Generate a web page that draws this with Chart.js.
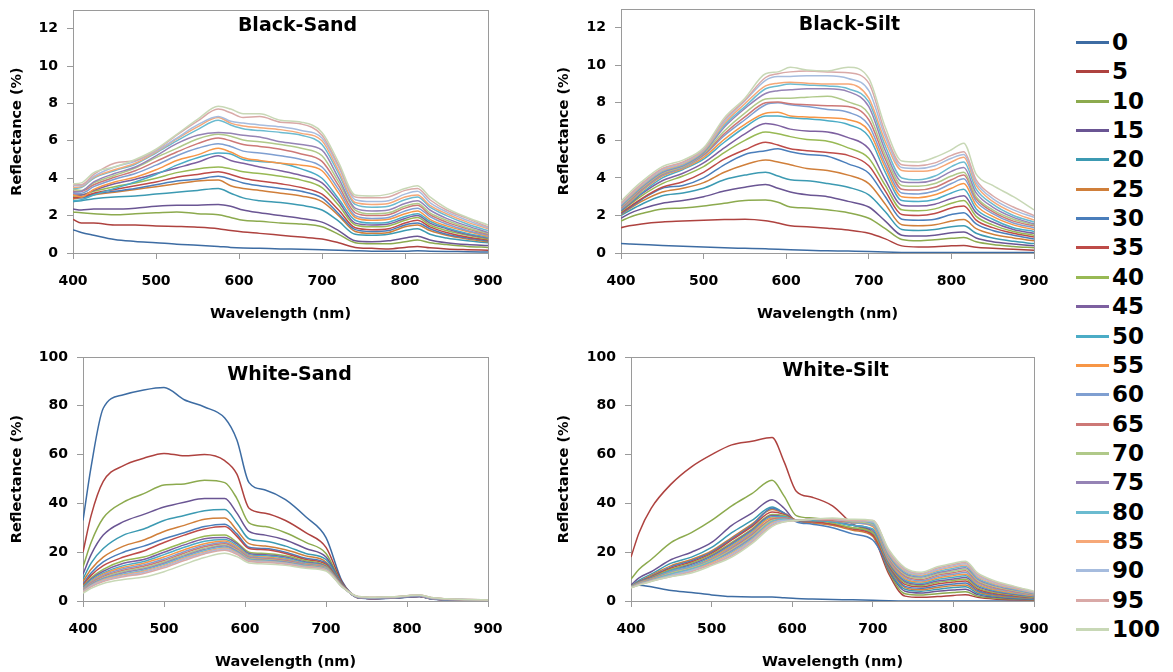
<!DOCTYPE html>
<html>
<head>
<meta charset="utf-8">
<script src="https://cdn.jsdelivr.net/npm/chart.js@4/dist/chart.umd.min.js"></script>
<style>
  body { margin: 0; background: #fff; width: 1173px; height: 672px; overflow: hidden; position: relative; }
  canvas { position: absolute; }
  #legend { position: absolute; left: 1076px; top: 0; }
  .item { position: absolute; left: 0; width: 100px; height: 3px; }
  .item i { position: absolute; left: 0; top: 0; width: 33px; height: 3px; }
  .item span { position: absolute; left: 36px; top: -12px; line-height: 26px; font: bold 23px "DejaVu Sans", sans-serif; color: #000; }
</style>
</head>
<body>
<canvas id="bsand" width="520" height="330" style="left:0;top:0"></canvas>
<canvas id="bsilt" width="520" height="330" style="left:550px;top:0"></canvas>
<canvas id="wsand" width="520" height="332" style="left:0;top:340px"></canvas>
<canvas id="wsilt" width="520" height="332" style="left:550px;top:340px"></canvas>
<div id="legend"></div>
<script>
// wavelength grid (nm) shared by every panel
const wavelengths = [400, 410, 425, 450, 475, 500, 525, 550, 575, 590, 605, 625, 650, 675, 700, 720, 740, 760, 780, 800, 815, 830, 850, 875, 900];
const fractions = ["0", "5", "10", "15", "20", "25", "30", "35", "40", "45", "50", "55", "60", "65", "70", "75", "80", "85", "90", "95", "100"];
const lineColors = ["#3D6CA3", "#AE423F", "#8CAA4E", "#6A5593", "#3C9AB2", "#D07F3A", "#4A7EBB", "#BE4B48", "#98B954", "#7D60A0", "#4BACC6", "#F79646",
  "#7F9FD1", "#CD7876", "#B0C989", "#9583B5", "#6BBBD0", "#F6A878", "#A6BCDE", "#D9A9A7", "#C8D8B6"];
const blackTicks = [0, 2, 4, 6, 8, 10, 12];
const whiteTicks = [0, 20, 40, 60, 80, 100];

// Black-Sand reflectance (%), one row per fraction
const blackSand = [
  [1.25,1.1,0.95,0.72,0.62,0.55,0.47,0.42,0.35,0.3,0.27,0.25,0.22,0.2,0.17,0.15,0.12,0.1,0.1,0.1,0.12,0.1,0.08,0.07,0.05],
  [1.8,1.6,1.6,1.5,1.5,1.45,1.42,1.38,1.3,1.2,1.12,1.05,0.95,0.85,0.75,0.55,0.3,0.25,0.22,0.3,0.35,0.28,0.22,0.18,0.15],
  [2.2,2.15,2.1,2.05,2.1,2.15,2.2,2.1,2.05,1.9,1.75,1.7,1.6,1.55,1.4,1.0,0.55,0.5,0.5,0.6,0.7,0.55,0.45,0.35,0.3],
  [2.35,2.3,2.35,2.35,2.4,2.5,2.55,2.55,2.6,2.5,2.3,2.15,2.0,1.85,1.65,1.2,0.65,0.6,0.65,0.8,0.9,0.7,0.55,0.45,0.4],
  [2.75,2.8,2.9,3.0,3.05,3.15,3.25,3.35,3.45,3.2,2.95,2.8,2.7,2.55,2.3,1.7,1.0,0.95,1.0,1.2,1.3,1.0,0.8,0.65,0.55],
  [2.9,2.95,3.1,3.25,3.4,3.55,3.7,3.85,3.9,3.6,3.45,3.35,3.2,3.05,2.75,2.0,1.15,1.05,1.1,1.4,1.5,1.2,0.95,0.75,0.6],
  [3.0,2.95,3.15,3.3,3.45,3.65,3.85,3.95,4.1,3.95,3.75,3.6,3.45,3.3,2.95,2.1,1.25,1.15,1.2,1.5,1.6,1.3,1.0,0.8,0.65],
  [2.95,3.0,3.2,3.4,3.6,3.8,4.05,4.2,4.35,4.2,4.0,3.85,3.7,3.5,3.15,2.3,1.35,1.25,1.3,1.6,1.75,1.4,1.1,0.85,0.7],
  [3.05,3.1,3.3,3.55,3.75,4.0,4.3,4.5,4.6,4.5,4.35,4.25,4.1,3.9,3.5,2.55,1.5,1.4,1.45,1.75,1.9,1.5,1.2,0.95,0.75],
  [3.1,3.1,3.35,3.7,3.95,4.25,4.55,4.85,5.2,4.95,4.8,4.6,4.4,4.15,3.75,2.75,1.6,1.5,1.55,1.85,2.0,1.6,1.3,1.0,0.8],
  [2.8,2.85,3.1,3.45,3.8,4.2,4.7,5.1,5.35,5.3,5.0,4.9,4.8,4.5,4.0,2.9,1.75,1.6,1.65,1.95,2.1,1.7,1.35,1.05,0.85],
  [3.1,3.0,3.4,3.8,4.05,4.45,4.95,5.25,5.6,5.4,5.1,4.95,4.8,4.7,4.4,3.2,1.9,1.75,1.8,2.1,2.25,1.8,1.45,1.15,0.9],
  [3.2,3.2,3.55,3.95,4.25,4.7,5.2,5.6,5.85,5.7,5.45,5.35,5.2,5.0,4.6,3.4,2.0,1.85,1.9,2.25,2.4,1.95,1.55,1.2,0.95],
  [3.3,3.3,3.65,4.05,4.4,4.9,5.4,5.85,6.15,6.0,5.8,5.7,5.55,5.3,4.9,3.6,2.15,2.0,2.05,2.4,2.55,2.05,1.65,1.3,1.0],
  [3.4,3.35,3.75,4.15,4.55,5.1,5.6,6.1,6.35,6.25,6.05,5.95,5.8,5.6,5.2,3.8,2.3,2.1,2.15,2.5,2.65,2.15,1.75,1.35,1.05],
  [3.25,3.3,3.8,4.25,4.6,5.2,5.85,6.3,6.45,6.4,6.3,6.2,5.95,5.8,5.5,4.0,2.4,2.25,2.3,2.65,2.8,2.3,1.85,1.45,1.1],
  [3.45,3.5,4.0,4.4,4.75,5.35,6.0,6.6,7.1,6.85,6.65,6.55,6.45,6.3,5.8,4.25,2.6,2.45,2.5,2.85,3.0,2.45,2.0,1.55,1.2],
  [3.5,3.55,4.05,4.45,4.8,5.4,6.1,6.75,7.25,6.95,6.8,6.7,6.6,6.4,6.0,4.4,2.7,2.6,2.65,3.0,3.1,2.55,2.1,1.65,1.3],
  [3.6,3.6,4.1,4.6,4.9,5.45,6.15,6.85,7.3,7.05,6.95,6.85,6.75,6.55,6.15,4.6,2.85,2.75,2.8,3.15,3.3,2.7,2.2,1.75,1.35],
  [3.65,3.65,4.2,4.8,4.95,5.5,6.3,7.05,7.7,7.5,7.25,7.3,7.0,6.9,6.3,4.7,3.0,2.95,3.0,3.35,3.45,2.85,2.3,1.85,1.4],
  [3.7,3.75,4.3,4.6,5.0,5.55,6.35,7.15,7.85,7.7,7.45,7.45,7.1,7.0,6.45,4.85,3.1,3.05,3.15,3.45,3.6,3.0,2.4,1.9,1.5]
];

// Black-Silt reflectance (%)
const blackSilt = [
  [0.5,0.48,0.45,0.4,0.36,0.32,0.28,0.25,0.22,0.2,0.17,0.14,0.12,0.1,0.08,0.05,0.03,0.02,0.02,0.02,0.02,0.02,0.02,0.02,0.02],
  [1.35,1.45,1.55,1.65,1.7,1.75,1.78,1.8,1.72,1.6,1.45,1.4,1.32,1.22,1.05,0.75,0.38,0.32,0.33,0.38,0.4,0.3,0.25,0.2,0.15],
  [1.7,1.9,2.1,2.35,2.4,2.5,2.65,2.8,2.82,2.7,2.45,2.4,2.3,2.15,1.85,1.3,0.72,0.65,0.7,0.78,0.82,0.6,0.45,0.35,0.28],
  [1.85,2.1,2.35,2.65,2.8,3.0,3.3,3.5,3.65,3.45,3.25,3.1,3.0,2.75,2.45,1.7,0.95,0.9,0.95,1.08,1.12,0.8,0.6,0.48,0.38],
  [2.0,2.25,2.6,3.05,3.2,3.45,3.9,4.15,4.3,4.1,3.9,3.85,3.7,3.5,3.1,2.2,1.25,1.2,1.25,1.4,1.45,1.05,0.8,0.62,0.5],
  [2.05,2.35,2.75,3.25,3.45,3.75,4.3,4.7,4.95,4.85,4.7,4.5,4.4,4.15,3.7,2.6,1.5,1.45,1.5,1.7,1.78,1.3,1.0,0.8,0.65],
  [2.1,2.4,2.85,3.45,3.6,4.0,4.7,5.25,5.45,5.55,5.4,5.25,5.15,4.75,4.25,3.0,1.8,1.75,1.8,2.05,2.15,1.55,1.2,0.95,0.75],
  [2.15,2.45,2.9,3.5,3.8,4.3,5.0,5.5,5.9,5.75,5.55,5.45,5.35,5.2,4.65,3.3,2.05,2.0,2.1,2.4,2.5,1.75,1.35,1.05,0.85],
  [2.2,2.55,3.05,3.7,4.1,4.6,5.35,6.0,6.45,6.35,6.2,6.05,5.95,5.6,5.05,3.6,2.3,2.25,2.35,2.65,2.8,1.95,1.5,1.15,0.95],
  [2.25,2.6,3.15,3.85,4.25,4.8,5.6,6.35,6.9,6.8,6.6,6.5,6.45,6.15,5.55,3.9,2.55,2.5,2.6,2.9,3.05,2.15,1.65,1.25,1.05],
  [2.3,2.65,3.2,4.0,4.45,5.0,5.9,6.7,7.3,7.3,7.2,7.15,7.05,6.85,6.2,4.3,2.8,2.75,2.85,3.2,3.4,2.35,1.8,1.35,1.15],
  [2.35,2.7,3.3,4.1,4.5,5.1,6.05,6.85,7.45,7.5,7.3,7.25,7.2,7.1,6.5,4.55,3.0,2.95,3.1,3.45,3.7,2.55,1.95,1.5,1.25],
  [2.35,2.75,3.35,4.15,4.55,5.2,6.25,7.1,7.9,8.0,7.9,7.8,7.65,7.5,6.8,4.75,3.2,3.15,3.3,3.7,3.95,2.75,2.1,1.6,1.35],
  [2.4,2.8,3.4,4.2,4.6,5.25,6.35,7.25,8.0,8.05,7.95,7.9,7.85,7.8,7.1,5.0,3.4,3.35,3.5,3.9,4.15,2.9,2.2,1.7,1.45],
  [2.45,2.85,3.45,4.25,4.6,5.3,6.5,7.45,8.2,8.25,8.25,8.3,8.35,8.05,7.4,5.2,3.6,3.55,3.7,4.1,4.3,3.0,2.3,1.8,1.5],
  [2.5,2.9,3.5,4.3,4.65,5.35,6.7,7.7,8.5,8.65,8.7,8.75,8.75,8.6,7.8,5.45,3.8,3.75,3.9,4.35,4.55,3.2,2.45,1.9,1.55],
  [2.55,2.95,3.55,4.35,4.7,5.4,6.8,7.8,8.75,8.9,9.0,8.95,8.9,8.75,8.05,5.7,4.0,3.9,4.1,4.6,4.85,3.4,2.6,2.0,1.65],
  [2.6,3.0,3.6,4.4,4.75,5.45,6.9,7.95,8.9,9.05,9.1,9.05,9.0,9.0,8.25,5.95,4.4,4.35,4.45,4.85,5.1,3.6,2.75,2.15,1.75],
  [2.6,3.05,3.65,4.45,4.8,5.5,7.0,8.1,9.2,9.4,9.4,9.45,9.45,9.3,8.65,6.2,4.55,4.5,4.65,5.05,5.25,3.75,2.9,2.3,1.9],
  [2.65,3.1,3.7,4.5,4.85,5.55,7.1,8.15,9.35,9.55,9.65,9.7,9.65,9.6,9.05,6.4,4.7,4.65,4.8,5.2,5.4,3.9,3.05,2.45,2.0],
  [2.75,3.2,3.8,4.6,4.95,5.6,7.2,8.25,9.55,9.65,9.9,9.75,9.7,9.9,9.3,6.7,4.9,4.85,5.1,5.5,5.85,4.2,3.6,3.0,2.3]
];

// White-Sand reflectance (%)
const whiteSand = [
  [33,55,79,84.5,86.5,87.5,82.5,79.5,75,66,48.5,45.5,41.5,34.5,26,8,1.5,1.0,1.2,1.6,1.9,0.9,0.5,0.3,0.2],
  [20,35,49,55.5,58.5,60.5,59.5,60,57.5,52,38,36,33,28,22,7.5,1.4,1.0,1.2,1.6,1.8,0.9,0.5,0.3,0.2],
  [14,24,34,40.5,44,47.5,48,49.5,48.5,42,32,30.5,28,24,19.5,7,1.3,1.1,1.3,1.7,1.9,1.0,0.6,0.4,0.2],
  [11,19,27,32.5,35.5,38.5,40.5,42,42,36,28.5,27,25,21.5,18,7,1.3,1.0,1.2,1.6,1.8,0.9,0.5,0.3,0.2],
  [9,15.5,21.5,27,29.5,33,35,37,37.5,32,25.5,24.5,22.5,19.5,17,6.8,1.4,1.1,1.3,1.7,2.0,1.0,0.6,0.4,0.3],
  [8,13,18,22.5,25,28.5,31,33.5,34,29,23.5,22.5,21,18.5,16,6.6,1.3,1.0,1.2,1.6,1.9,0.9,0.5,0.3,0.2],
  [7,11.5,16,20,22.5,25.5,28,30.5,31.5,27.5,22,21.5,20,17.5,15.5,6.5,1.2,0.9,1.1,1.5,1.8,0.8,0.5,0.3,0.2],
  [6.5,10.5,14.5,18,20.5,24,27,29.5,30.5,26.5,21.5,21,19.5,17,15,6.4,1.3,1.0,1.2,1.7,1.9,0.9,0.6,0.4,0.2],
  [6,9.5,13,16.5,18,21,24,26.5,27,24,20,19.5,18.5,16.5,14.5,6.3,1.4,1.1,1.3,1.8,2.0,1.0,0.6,0.4,0.3],
  [5.6,9,12.2,15.5,17,20,23,25.5,26,23.5,19.5,19,18,16,14.2,6.3,1.3,1.0,1.2,1.7,1.9,0.9,0.5,0.3,0.2],
  [5.3,8.5,11.5,14.5,16.2,19,22,24.5,25.2,22.8,19,18.5,17.5,15.6,14,6.2,1.4,1.1,1.3,1.8,2.0,1.0,0.6,0.4,0.3],
  [5,8,11,13.8,15.5,18,21,23.5,24.6,22.2,18.6,18,17.1,15.3,13.8,6.2,1.5,1.2,1.4,1.9,2.1,1.1,0.7,0.5,0.3],
  [4.8,7.6,10.5,13.2,14.8,17.2,20.2,22.8,24,21.6,18.2,17.6,16.8,15.1,13.6,6.1,1.4,1.1,1.3,1.8,2.0,1.0,0.6,0.4,0.3],
  [4.6,7.3,10,12.6,14.2,16.6,19.6,22.2,23.5,21.2,17.8,17.3,16.5,14.9,13.4,6.1,1.5,1.2,1.4,1.9,2.1,1.1,0.7,0.5,0.3],
  [4.4,7,9.6,12.1,13.6,16,19,21.6,23,20.8,17.5,17,16.2,14.7,13.3,6.0,1.6,1.3,1.5,2.0,2.2,1.2,0.8,0.5,0.3],
  [4.2,6.8,9.2,11.6,13.1,15.5,18.5,21.1,22.5,20.4,17.2,16.7,16,14.5,13.1,6.0,1.5,1.2,1.4,1.9,2.1,1.1,0.7,0.5,0.3],
  [4,6.5,8.9,11.1,12.6,15,18,20.6,22,20,17,16.5,15.7,14.3,13,5.9,1.6,1.3,1.5,2.0,2.3,1.2,0.8,0.5,0.3],
  [3.9,6.3,8.6,10.7,12.2,14.5,17.5,20.1,21.6,19.7,16.7,16.2,15.5,14.1,12.8,5.9,1.7,1.4,1.6,2.1,2.4,1.3,0.8,0.6,0.4],
  [3.8,6.1,8.3,10.3,11.8,14.1,17.1,19.7,21.2,19.4,16.4,16,15.3,13.9,12.7,5.8,1.7,1.4,1.6,2.1,2.4,1.3,0.9,0.6,0.4],
  [3.6,5.8,8,9.9,11.3,13.6,16.6,19.3,20.8,19.1,16.2,15.8,15.1,13.8,12.6,5.8,1.8,1.5,1.7,2.2,2.5,1.4,0.9,0.6,0.4],
  [3.2,5.2,7.2,8.8,9.8,12,15,17.8,19.6,18.2,15.6,15.2,14.6,13.4,12.3,5.7,1.8,1.5,1.7,2.2,2.5,1.4,0.9,0.6,0.4]
];

// White-Silt reflectance (%)
const whiteSilt = [
  [6,6.5,5.8,4.3,3.5,2.5,1.8,1.6,1.6,1.3,1.0,0.8,0.6,0.5,0.3,0.1,0,0,0,0,0,0,0,0,0],
  [18,28,38,48,55,60,64,65.5,67,57,45,42.5,39,31.5,27,11,2,1.5,1.8,2.3,2.6,1.5,0.8,0.5,0.3],
  [9,13,17,24,28,33,39,44,49.5,43,35,34,33,31,28,12,3,2.5,3,3.5,3.8,2,1.2,0.8,0.5],
  [6.5,9.5,12,17,20,24,31,36,41.5,38,33,33,32.5,31,28,12.5,4,3.3,4,4.5,4.8,2.6,1.6,1.0,0.6],
  [6,8.5,11,15.5,18,22,28,33,38.5,36,33,32.5,31.5,30,27,13,4.8,4,4.8,5.5,5.8,3.2,2,1.3,0.8],
  [6,8,10.5,14.5,17,20.5,26,31.5,37.5,36,33,32,31,29,26.5,13.5,5.5,4.6,5.5,6.3,6.6,3.8,2.4,1.6,1.0],
  [6,8,10,14,16.5,20,25.5,31,38,36,32.5,31.5,30,27.5,25,14,6,5.2,6.2,7,7.4,4.3,2.8,1.9,1.2],
  [6,7.8,9.8,13.5,16,19.5,25,30.5,36.5,35.5,33,32.5,31.5,29.5,27,14.5,6.8,5.8,7,7.8,8.2,4.9,3.2,2.2,1.4],
  [6,7.7,9.6,13,15.5,19,24,29.5,35.5,35,33,33,32,30,28,15,7.4,6.3,7.6,8.4,8.9,5.4,3.6,2.5,1.6],
  [5.9,7.6,9.4,12.5,15,18.5,23.5,29,35,34.5,33,33,32.5,31,29,15.5,8,6.8,8.2,9,9.6,6,4,2.8,1.8],
  [5.9,7.5,9.2,12.5,14.5,18,23,28.5,34.5,34.5,33,33,32.5,31,29.5,16,8.6,7.3,8.8,9.7,10.3,6.5,4.4,3.1,2.0],
  [5.8,7.4,9,12,14,17.5,22.5,28,34,34,33,33.5,33,32,30.5,16.5,9.2,7.8,9.4,10.4,11,7,4.8,3.4,2.2],
  [5.8,7.3,8.8,12,14,17,22,27.5,33.5,34,33,33.5,33,32,31,17,9.8,8.3,10,11,11.7,7.5,5.2,3.7,2.4],
  [5.7,7.2,8.7,11.5,13.5,16.5,21.5,27,33.5,34,33,33.5,33,32.5,31.5,17.5,10.3,8.8,10.6,11.6,12.4,8,5.6,4,2.6],
  [5.7,7.1,8.6,11.5,13.5,16.5,21,26.5,33,33.5,33,33.5,33.5,32.5,31.5,18,10.8,9.3,11.1,12.2,13,8.5,6,4.3,2.8],
  [5.6,7,8.5,11,13,16,20.5,26,32.5,33.5,33,33.5,33.5,33,32,18.5,11.3,9.8,11.6,12.8,13.6,9,6.4,4.6,3.0],
  [5.6,6.9,8.4,11,13,16,20,25.5,32.5,33.5,33,33.5,33.5,33,32,19,11.8,10.2,12.1,13.4,14.2,9.5,6.8,4.9,3.2],
  [5.5,6.8,8.3,10.5,12.5,15.5,19.5,25,32,33,33,33.5,33.5,33,32.5,19.5,12.3,10.6,12.6,14,14.8,10,7.2,5.2,3.4],
  [5.5,6.7,8.2,10.5,12.5,15,19,24.5,31.5,33,33,33.5,33.5,33,32.5,20,12.8,11,13,14.5,15.3,10.5,7.6,5.5,3.6],
  [5.4,6.6,8.1,10,12,15,18.5,24,31,32.5,33,33.5,33.5,33,33,20.5,13.2,11.4,13.5,15,15.8,11,8,5.8,3.8],
  [5.4,6.5,8,10,11.5,14.5,18,23.5,30.5,32.5,33,33.5,34,33.5,33,21,13.6,11.8,14,15.5,16.3,11.5,8.4,6.1,4.0]
];

const axisGrey = "#9A9A9A";
const tickFont = { family: "DejaVu Sans", size: 14, weight: "bold" };
const axisTitleFont = { family: "DejaVu Sans", size: 14.5, weight: "bold" };

// title inside the plot area + grey plot frame
const panelDecor = {
  id: "panelDecor",
  beforeDatasetsDraw(chart) {
    const { ctx, chartArea: a } = chart;
    ctx.save();
    ctx.strokeStyle = axisGrey;
    ctx.lineWidth = 1;
    ctx.strokeRect(Math.round(a.left) + 0.5, Math.round(a.top) + 0.5, Math.round(a.width), Math.round(a.height));
    ctx.restore();
  },
  afterDraw(chart, args, o) {
    const { ctx, chartArea: a } = chart;
    ctx.save();
    ctx.font = 'bold 19px "DejaVu Sans"';
    ctx.fillStyle = "#000";
    ctx.textAlign = "center";
    ctx.textBaseline = "middle";
    ctx.fillText(o.text, (a.left + a.right) / 2 + o.dx, a.top + o.dy);
    ctx.restore();
  }
};

const makePanel = (id, rows, cfg) => {
  const datasets = rows.map((row, i) => ({
    label: fractions[i],
    data: row.map((v, j) => ({ x: wavelengths[j], y: v })),
    borderColor: lineColors[i],
    borderWidth: 1.5,
    pointRadius: 0,
    cubicInterpolationMode: "monotone",
    order: rows.length - i
  }));
  new Chart(document.getElementById(id), {
    type: "line",
    data: { datasets },
    plugins: [panelDecor],
    options: {
      responsive: false,
      animation: false,
      events: [],
      layout: { padding: cfg.pad },
      plugins: {
        legend: { display: false },
        tooltip: { enabled: false },
        panelDecor: { text: cfg.title, dx: cfg.titleDx, dy: cfg.titleDy }
      },
      scales: {
        x: {
          type: "linear", min: 400, max: 900,
          afterFit: (s) => { s.height = cfg.xHeight; s.paddingLeft = 0; s.paddingRight = 0; },
          ticks: { stepSize: 100, font: tickFont, color: "#000", padding: 14, maxRotation: 0 },
          grid: { drawOnChartArea: false, tickLength: 6, color: axisGrey },
          border: { color: axisGrey },
          title: { display: true, text: "Wavelength (nm)", font: axisTitleFont, color: "#000", padding: { top: 0, bottom: cfg.xTitlePad } }
        },
        y: {
          min: 0, max: cfg.yMax,
          afterFit: (s) => { s.width = cfg.yWidth; s.paddingTop = 0; s.paddingBottom = 0; },
          afterBuildTicks: (s) => { s.ticks = cfg.yTicks.map(v => ({ value: v })); },
          ticks: { font: tickFont, color: "#000", padding: 9 },
          grid: { drawOnChartArea: false, tickLength: 6, color: axisGrey },
          border: { color: axisGrey },
          title: { display: true, text: "Reflectance (%)", font: axisTitleFont, color: "#000", padding: { top: cfg.yTitlePad, bottom: 0 } }
        }
      }
    }
  });
};

makePanel("bsand", blackSand, { title: "Black-Sand", titleDx: 17, titleDy: 16, yMax: 13, yTicks: blackTicks,
  pad: { left: 0, top: 10, right: 32, bottom: 0 }, yWidth: 73, xHeight: 77, xTitlePad: 7.3, yTitlePad: 8.3 });
makePanel("bsilt", blackSilt, { title: "Black-Silt", titleDx: 22, titleDy: 16, yMax: 13, yTicks: blackTicks,
  pad: { left: 0, top: 9, right: 36, bottom: 0 }, yWidth: 71, xHeight: 77, xTitlePad: 7.3, yTitlePad: 5.3 });
makePanel("wsand", whiteSand, { title: "White-Sand", titleDx: 4, titleDy: 18, yMax: 100, yTicks: whiteTicks,
  pad: { left: 0, top: 17, right: 32, bottom: 0 }, yWidth: 83, xHeight: 71, xTitlePad: 1.3, yTitlePad: 8.3 });
makePanel("wsilt", whiteSilt, { title: "White-Silt", titleDx: 3, titleDy: 14, yMax: 100, yTicks: whiteTicks,
  pad: { left: 0, top: 17, right: 36, bottom: 0 }, yWidth: 81, xHeight: 71, xTitlePad: 1.3, yTitlePad: 5.3 });

// legend on the right
const legend = document.getElementById("legend");
fractions.forEach((f, i) => {
  const item = document.createElement("div");
  item.className = "item";
  item.style.top = (41 + i * 29.35) + "px";
  item.innerHTML = '<i style="background:' + lineColors[i] + '"></i><span>' + f + "</span>";
  legend.appendChild(item);
});
</script>
</body>
</html>
